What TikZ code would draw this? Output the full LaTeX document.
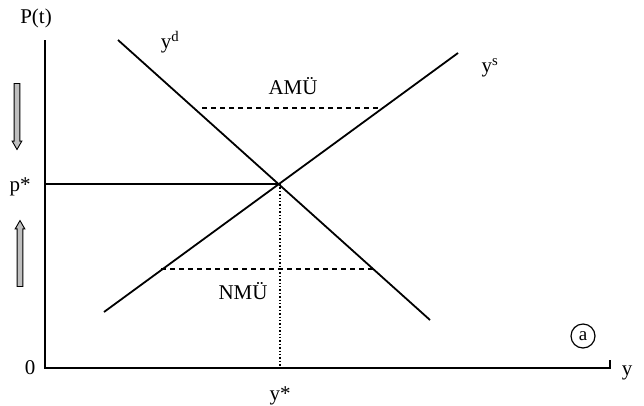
\documentclass[tikz,border=0pt]{standalone}
\usepackage{fontspec}
\setmainfont{Liberation Serif}
\usetikzlibrary{shapes.arrows}

\tikzset{
  lbl/.style={inner sep=1pt,font=\fontsize{21}{24}\selectfont},
  curve/.style={line width=1.8pt},
  gap/.style={line width=1.3pt,dash pattern=on 5pt off 4pt},
  drift/.style={single arrow,draw,fill=gray!50,line width=0.9pt,minimum height=66pt,
    single arrow head extend=2pt,single arrow tip angle=60,inner sep=2.4pt}
}

\begin{document}
\begin{tikzpicture}[x=1pt,y=-1pt]
  \useasboundingbox (0,0) rectangle (644,405);
                  \coordinate (O) at (45,368);
                  \coordinate (Ytop) at (45,40);
                  \coordinate (Xend) at (610,368);
                  \coordinate (Xtick) at (610,360);
                  \coordinate (D1) at (118,40);
                  \coordinate (D2) at (430,320);
                  \coordinate (S1) at (104,312);
                  \coordinate (S2) at (458,53);
                  \coordinate (E) at (280,184);
                  \coordinate (Pstar) at (45,184);
                  \coordinate (Ystar) at (280,368);
                  \coordinate (A1) at (202,108);
                  \coordinate (A2) at (383,108);
                  \coordinate (N1) at (161,269);
                  \coordinate (N2) at (373,269);
                  % axes
                  \draw[line width=2pt] (Ytop) -- (O) -- (Xend) -- (Xtick);
                  % curves
                  \path[curve] (D1) edge (D2) (S1) edge (S2);
                  \draw[line width=1.2pt] (Pstar) -- (E);
                  \draw[line width=1.4pt,dotted] (E) -- (Ystar);
                  \path[gap] (A1) edge (A2) (N1) edge (N2);
                  % labels
                  \node[lbl] (Pt) at (36,18) {P(t)};
                  \node[lbl] (yd) at (170,42) {y$^{\mathrm{d}}$};
                  \node[lbl] (ys) at (490,68) {y$^{\mathrm{s}}$};
                  \node[lbl] (amu) at (293,86) {AMÜ};
                  \node[lbl] (nmu) at (243,291) {NMÜ};
                  \node[lbl] (ps) at (20,187) {p*};
                  \node[lbl] (zero) at (30,368) {0};
                  \node[lbl] (ysr) at (280,396) {y*};
                  \node[lbl] (yax) at (627,373) {y};
                  \node[circle,draw,line width=1.2pt,minimum size=24pt,inner sep=0pt,
                    font=\fontsize{19}{22}\selectfont] (a) at (583,336) {a};
                  % price movement
                  \node[drift,rotate=-90] (down) at (17,114) {};
                  \node[drift,rotate=90] (up) at (20,256) {};
\end{tikzpicture}
\end{document}
